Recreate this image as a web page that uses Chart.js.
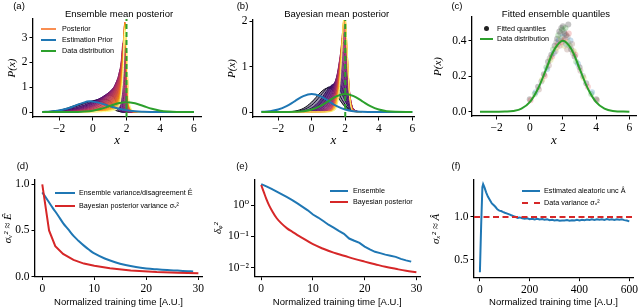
<!DOCTYPE html>
<html>
<head>
<meta charset="utf-8">
<script src="https://cdn.jsdelivr.net/npm/chart.js@4.4.0/dist/chart.umd.min.js"></script>
<style>
  body { margin: 0; background: #fff; }
  #fig { position: relative; width: 640px; height: 308px; overflow: hidden; font-family: 'Liberation Sans', sans-serif; }
  #fig canvas { position: absolute; }
  .lbl { position: absolute; white-space: nowrap; line-height: 1; color: #000; }
  .sw { position: absolute; height: 0; }
  .dot { position: absolute; border-radius: 50%; }
</style>
</head>
<body>
<div id="fig">
  <canvas id="pa"></canvas>
  <canvas id="pb"></canvas>
  <canvas id="pc"></canvas>
  <canvas id="pd"></canvas>
  <canvas id="pe"></canvas>
  <canvas id="pf"></canvas>
</div>
<script>
// Global font settings
const SERIF = "'Liberation Serif', 'DejaVu Serif', serif";
Chart.defaults.font.family = SERIF;
Chart.defaults.color = '#000';

// Colours
const BLUE = '#1f77b4';
const RED = '#d62728';
const GREEN = '#2ca02c';
const POST_ORANGE = '#f98e52';

// ---- Panels (a)-(c): densities on x ----
const DATA_MEAN = 2;
const xN = [-3, -2.5, -2, -1.5, -1, -0.5, 0, 0.5, 1, 1.5, 2, 2.5, 3, 3.5, 4, 4.5, 5, 6];
const dataDist = [0, 0, 0.0001, 0.0009, 0.0044, 0.0175, 0.054, 0.13, 0.242, 0.352, 0.399, 0.352, 0.242, 0.13, 0.054, 0.0175, 0.0044, 0.0001];
const priorB = [0.0044, 0.0175, 0.054, 0.13, 0.242, 0.352, 0.399, 0.352, 0.242, 0.13, 0.054, 0.0175, 0.0044, 0.0009, 0.0001, 0, 0, 0];
const xPriorA = [-3, -2.5, -2, -1.5, -1, -0.5, -0.2, 0, 0.5, 1, 1.5, 2, 2.5, 3, 3.5, 4, 5, 6];
const priorA = [0.005, 0.02, 0.06, 0.14, 0.27, 0.39, 0.43, 0.42, 0.35, 0.24, 0.14, 0.07, 0.03, 0.012, 0.004, 0.001, 0, 0];

// ensemble mean posterior curves, early (dark) to late (light)
const xA = [-3, -2, -1.5, -1, -0.5, 0, 0.5, 1, 1.25, 1.5, 1.65, 1.8, 1.9, 2.0, 2.15, 2.5, 3, 4, 6];
const postA = [
  [0.003, 0.07, 0.16, 0.28, 0.38, 0.44, 0.42, 0.22, 0.1, 0.03, 0.01, 0, 0, 0, 0, 0, 0, 0, 0],
  [0.002, 0.05, 0.12, 0.22, 0.34, 0.45, 0.52, 0.45, 0.25, 0.06, 0.01, 0, 0, 0, 0, 0, 0, 0, 0],
  [0.001, 0.035, 0.09, 0.17, 0.28, 0.42, 0.57, 0.68, 0.58, 0.18, 0.03, 0, 0, 0, 0, 0, 0, 0, 0],
  [0.001, 0.025, 0.065, 0.13, 0.23, 0.38, 0.58, 0.8, 0.92, 0.7, 0.15, 0.01, 0, 0, 0, 0, 0, 0, 0],
  [0, 0.018, 0.048, 0.1, 0.19, 0.33, 0.55, 0.82, 1.0, 1.3, 0.9, 0.1, 0, 0, 0, 0, 0, 0, 0],
  [0, 0.012, 0.035, 0.08, 0.15, 0.27, 0.5, 0.8, 1.0, 1.4, 1.75, 0.7, 0.05, 0, 0, 0, 0, 0, 0],
  [0, 0.008, 0.025, 0.06, 0.12, 0.23, 0.44, 0.76, 0.97, 1.4, 1.85, 2.4, 0.9, 0.05, 0, 0, 0, 0, 0],
  [0, 0.005, 0.016, 0.042, 0.09, 0.18, 0.37, 0.68, 0.9, 1.32, 1.8, 2.8, 2.6, 0.4, 0, 0, 0, 0, 0],
  [0, 0.003, 0.01, 0.028, 0.062, 0.13, 0.28, 0.56, 0.78, 1.18, 1.68, 2.8, 3.3, 0.9, 0.05, 0, 0, 0, 0],
  [0, 0.002, 0.006, 0.016, 0.04, 0.085, 0.19, 0.42, 0.62, 1.0, 1.5, 2.7, 3.55, 1.4, 0.1, 0, 0, 0, 0],
  [0, 0.001, 0.003, 0.009, 0.024, 0.052, 0.12, 0.3, 0.47, 0.8, 1.3, 2.55, 3.62, 1.8, 0.15, 0, 0, 0, 0],
  [0, 0, 0.002, 0.005, 0.014, 0.031, 0.075, 0.2, 0.34, 0.62, 1.1, 2.4, 3.62, 2.1, 0.2, 0, 0, 0, 0],
  [0, 0, 0.001, 0.003, 0.008, 0.018, 0.045, 0.13, 0.24, 0.47, 0.92, 2.2, 3.58, 2.3, 0.25, 0, 0, 0, 0],
  [0, 0, 0, 0.002, 0.005, 0.01, 0.026, 0.08, 0.16, 0.35, 0.76, 2.0, 3.5, 2.45, 0.3, 0.01, 0, 0, 0],
  [0, 0, 0, 0.001, 0.003, 0.006, 0.015, 0.05, 0.1, 0.25, 0.6, 1.8, 3.4, 2.55, 0.35, 0.02, 0, 0, 0],
  [0, 0, 0, 0, 0.002, 0.004, 0.009, 0.03, 0.06, 0.17, 0.46, 1.6, 3.3, 2.6, 0.4, 0.03, 0, 0, 0]
];
const postAColors = ['#000004', '#170c3a', '#320a5e', '#4a0c6b', '#5f136e', '#75196e', '#8a226a', '#a02a63',
                     '#b73557', '#cc4248', '#df5337', '#f06b24', '#f98c0a', '#fbb61a', '#f4dd4f', '#fcffa4'];

// Bayesian mean posterior curves
const xB = [-1.5, -1, -0.5, 0, 0.25, 0.5, 0.75, 1, 1.25, 1.5, 1.65, 1.8, 1.9, 2.0, 2.1, 2.25, 2.5, 3];
const postB = [
  [0, 0.02, 0.08, 0.22, 0.32, 0.42, 0.5, 0.53, 0.48, 0.36, 0.28, 0.2, 0.15, 0.11, 0.08, 0.04, 0.01, 0],
  [0, 0.01, 0.05, 0.15, 0.24, 0.35, 0.46, 0.55, 0.55, 0.46, 0.38, 0.28, 0.22, 0.16, 0.11, 0.06, 0.02, 0],
  [0, 0, 0.025, 0.09, 0.16, 0.26, 0.39, 0.52, 0.6, 0.56, 0.5, 0.4, 0.32, 0.24, 0.17, 0.08, 0.02, 0],
  [0, 0, 0.01, 0.05, 0.1, 0.18, 0.3, 0.46, 0.6, 0.66, 0.62, 0.54, 0.45, 0.35, 0.25, 0.12, 0.03, 0],
  [0, 0, 0.005, 0.025, 0.055, 0.11, 0.21, 0.37, 0.56, 0.73, 0.76, 0.72, 0.62, 0.5, 0.36, 0.17, 0.04, 0],
  [0, 0, 0, 0.012, 0.03, 0.065, 0.14, 0.28, 0.49, 0.78, 0.9, 0.92, 0.85, 0.7, 0.5, 0.25, 0.05, 0],
  [0, 0, 0, 0.005, 0.015, 0.035, 0.085, 0.2, 0.42, 0.8, 1.02, 1.1, 1.07, 0.92, 0.68, 0.33, 0.06, 0],
  [0, 0, 0, 0.002, 0.007, 0.018, 0.05, 0.13, 0.33, 0.78, 1.1, 1.3, 1.32, 1.18, 0.88, 0.4, 0.06, 0],
  [0, 0, 0, 0, 0.003, 0.008, 0.027, 0.08, 0.24, 0.7, 1.12, 1.45, 1.54, 1.44, 1.08, 0.45, 0.06, 0],
  [0, 0, 0, 0, 0.001, 0.004, 0.014, 0.047, 0.16, 0.6, 1.05, 1.55, 1.74, 1.68, 1.25, 0.48, 0.05, 0],
  [0, 0, 0, 0, 0, 0.002, 0.007, 0.026, 0.1, 0.46, 0.92, 1.6, 1.9, 1.88, 1.38, 0.48, 0.04, 0],
  [0, 0, 0, 0, 0, 0, 0.003, 0.014, 0.06, 0.33, 0.78, 1.56, 1.98, 2.0, 1.45, 0.45, 0.03, 0],
  [0, 0, 0, 0, 0, 0, 0.001, 0.007, 0.035, 0.22, 0.62, 1.46, 2.02, 2.05, 1.48, 0.42, 0.02, 0],
  [0, 0, 0, 0, 0, 0, 0, 0.003, 0.02, 0.14, 0.48, 1.32, 2.02, 2.08, 1.48, 0.38, 0.015, 0]
];
const postBColors = ['#000004', '#0d0829', '#1f0c48', '#330a5f', '#460b6a', '#5a116e', '#6d186e', '#811f6c',
                     '#952467', '#aa2e5f', '#cf4446', '#f1711f', '#fbb41a', '#f6f07a'];

// fitted ensemble quantiles
const qX = [0.0, 0.05, 0.3, 0.35, 0.5, 0.55, 0.7, 0.75, 0.85, 0.9, 1.0, 1.05, 1.1, 1.15, 1.2, 1.25, 1.3, 1.35,
            1.4, 1.45, 1.5, 1.55, 1.6, 1.62, 1.65, 1.7, 1.72, 1.75, 1.78, 1.8, 1.85, 1.88, 1.9, 1.92, 1.95, 1.97,
            2.0, 2.02, 2.05, 2.08, 2.1, 2.12, 2.15, 2.18, 2.2, 2.25, 2.28, 2.3, 2.32, 2.35, 2.4, 2.45, 2.5, 2.55,
            2.6, 2.65, 2.7, 2.75, 2.8, 2.9, 3.0, 3.05, 3.2, 3.25, 3.4, 3.5, 3.7, 3.75, 4.0, 4.05];
const qY = [0.07, 0.065, 0.1, 0.11, 0.14, 0.125, 0.17, 0.18, 0.21, 0.2, 0.25, 0.24, 0.28, 0.26, 0.3, 0.29, 0.32, 0.31,
            0.35, 0.33, 0.37, 0.34, 0.39, 0.36, 0.41, 0.38, 0.43, 0.4, 0.45, 0.37, 0.44, 0.41, 0.47, 0.39, 0.46, 0.42,
            0.48, 0.4, 0.45, 0.37, 0.44, 0.41, 0.47, 0.38, 0.43, 0.35, 0.42, 0.39, 0.49, 0.44, 0.37, 0.4, 0.35, 0.38,
            0.33, 0.34, 0.31, 0.32, 0.28, 0.27, 0.25, 0.23, 0.2, 0.19, 0.16, 0.14, 0.1, 0.11, 0.07, 0.065];
const qColors = ['rgba(90,90,90,0.35)', 'rgba(214,39,40,0.22)', 'rgba(44,160,44,0.25)', 'rgba(31,119,180,0.25)',
                 'rgba(90,90,90,0.35)', 'rgba(140,86,75,0.25)', 'rgba(120,120,120,0.3)', 'rgba(188,189,34,0.25)'];

// ---- Panels (d)-(f): training time ----
const tEnsD = [0, 1, 2, 3, 4, 5, 6, 7, 8, 9, 10, 12, 14, 16, 18, 20, 22, 24, 26, 28, 29];
const ensVarD = [0.913, 0.83, 0.745, 0.665, 0.58, 0.51, 0.44, 0.385, 0.335, 0.29, 0.25, 0.195, 0.155, 0.125, 0.103, 0.088, 0.078, 0.07, 0.064, 0.058, 0.055];
const tBayD = [0, 1.3, 2.5, 4, 6, 8, 10, 13, 17, 22, 26, 30];
const bayVarD = [1.0, 0.5, 0.33, 0.245, 0.18, 0.14, 0.116, 0.09, 0.066, 0.049, 0.041, 0.036];

const tEnsE = [0, 1, 2, 3, 4, 5, 6, 7, 8, 9, 10, 11, 12, 13, 14, 15, 16, 17, 18, 19, 20, 21, 22, 23, 24, 25, 26, 27, 28, 29];
const ensErrE = [4.7, 4.0, 3.3, 2.7, 2.2, 1.8, 1.45, 1.13, 0.88, 0.68, 0.5, 0.4, 0.31, 0.235, 0.19, 0.15, 0.12, 0.085, 0.072, 0.062,
                 0.047, 0.038, 0.032, 0.029, 0.026, 0.024, 0.022, 0.019, 0.017, 0.0155];
const tBayE = [0, 0.5, 1, 1.5, 2, 3, 4, 5, 6, 7, 8, 10, 12, 14, 16, 18, 20, 22, 24, 26, 28, 30];
const bayErrE = [4.4, 2.6, 1.55, 1.0, 0.7, 0.38, 0.25, 0.18, 0.14, 0.11, 0.088, 0.056, 0.04, 0.03, 0.024, 0.019, 0.0155, 0.0128, 0.0106, 0.0091, 0.0079, 0.0071];

const tF = [0, 5, 10, 13, 18, 25, 32, 40, 48, 55, 62, 70, 78, 85, 92, 100, 110, 118, 126, 135, 144, 152, 160, 170, 180, 190,
            200, 210, 220, 230, 240, 250, 260, 270, 280, 290, 300, 310, 320, 330, 340, 350, 360, 370, 380, 390, 400, 410,
            420, 430, 440, 450, 460, 470, 480, 490, 500, 510, 520, 530, 540, 550, 560, 570, 580, 590, 600];
const aleaF = [0.35, 0.9, 1.35, 1.385, 1.35, 1.29, 1.24, 1.2, 1.16, 1.14, 1.12, 1.09, 1.075, 1.07, 1.06, 1.05, 1.04, 1.03, 1.02,
               1.01, 1.0, 0.99, 0.995, 0.985, 0.98, 0.985, 0.975, 0.98, 0.972, 0.978, 0.97, 0.975, 0.968, 0.972, 0.962, 0.968,
               0.958, 0.965, 0.955, 0.96, 0.958, 0.963, 0.955, 0.962, 0.958, 0.966, 0.96, 0.968, 0.962, 0.97, 0.964, 0.972,
               0.966, 0.974, 0.968, 0.972, 0.965, 0.975, 0.968, 0.973, 0.966, 0.974, 0.967, 0.972, 0.963, 0.958, 0.948];
const DATA_VAR = 1.0;

// ---- helpers ----
const pts = (xs, ys) => xs.map((x, i) => ({ x: x, y: ys[i] }));
const minus = v => String(v).replace('-', '\u2212');
const oneDec = v => v.toFixed(1);
const logLbl = v => ({ '1': '10\u2070', '0.1': '10\u207B\u00B9', '0.01': '10\u207B\u00B2' })[String(v)];
function hexA(hex, a) {
  const n = parseInt(hex.slice(1), 16);
  return 'rgba(' + (n >> 16) + ',' + ((n >> 8) & 255) + ',' + (n & 255) + ',' + a + ')';
}

function axis(kind, a, size) {
  return {
    type: a.type || 'linear',
    position: kind === 'x' ? 'bottom' : 'left',
    min: a.min,
    max: a.max,
    afterBuildTicks: s => { s.ticks = a.ticks.map(v => ({ value: v })); },
    afterFit: s => { if (kind === 'x') s.height = size; else s.width = size; },
    grid: { drawOnChartArea: false, drawTicks: true, tickLength: 3.5, color: '#000', lineWidth: 1 },
    border: { display: true, color: '#000', width: 1.3 },
    ticks: { autoSkip: false, maxRotation: 0, padding: 2, font: { family: SERIF, size: 11.5 }, color: '#000', callback: a.fmt },
    title: { display: true, text: a.title, font: a.titleFont, padding: a.titlePad, color: '#000' }
  };
}

// reg: canvas [x, y, w, h]; box: axes [left, top, right, bottom] in page pixels
function makePanel(id, reg, box, datasets, xa, ya) {
  const cv = document.getElementById(id);
  Object.assign(cv.style, { left: reg[0] + 'px', top: reg[1] + 'px', width: reg[2] + 'px', height: reg[3] + 'px' });
  cv.width = reg[2];
  cv.height = reg[3];
  return new Chart(cv, {
    type: 'line',
    data: { datasets: datasets },
    options: {
      responsive: false,
      animation: false,
      events: [],
      layout: { padding: { left: 0, top: box[1] - reg[1], right: reg[0] + reg[2] - box[2], bottom: 0 } },
      plugins: { legend: { display: false }, tooltip: { enabled: false }, filler: { propagate: false } },
      elements: { point: { radius: 0 }, line: { borderWidth: 1, tension: 0 } },
      scales: {
        x: axis('x', xa, reg[1] + reg[3] - box[3]),
        y: axis('y', ya, box[0] - reg[0])
      }
    }
  });
}

const line = (data, color, width, extra) => Object.assign({ data: data, borderColor: color, borderWidth: width, fill: false }, extra || {});
const SMOOTH = { tension: 0.4 };

// posterior family: each curve is filled down to the curve before it
function family(xs, curves, colors) {
  const out = [];
  for (let k = curves.length - 1; k >= 0; k--) {
    out.push(line(pts(xs, curves[k]), colors[k], 1, {
      cubicInterpolationMode: 'monotone',
      fill: k > 0 ? '+1' : false,
      backgroundColor: hexA(colors[k], k < 3 ? 0.45 : 0.8)
    }));
  }
  return out;
}

const SANS_TITLE = { family: "'Liberation Sans', sans-serif", size: 9.5 };
const PX_FONT = { family: SERIF, style: 'italic', size: 11 };

function xTop() {
  return { min: -3.5, max: 6.45, ticks: [-2, 0, 2, 4, 6], fmt: minus, title: 'x',
           titleFont: { family: SERIF, style: 'italic', size: 13 }, titlePad: { top: 0, bottom: 1.2 } };
}
function xTime(min, max, ticks) {
  return { min: min, max: max, ticks: ticks, fmt: minus, title: 'Normalized training time [A.U.]', titleFont: SANS_TITLE, titlePad: { top: 0, bottom: 0.3 } };
}

// (a) ensemble mean posterior
const dsA = [
  line([{ x: DATA_MEAN, y: -0.2 }, { x: DATA_MEAN, y: 3.75 }], GREEN, 2, { borderDash: [5, 3] }),
  line(pts(xN, dataDist), GREEN, 2, SMOOTH),
  line(pts(xPriorA, priorA), BLUE, 2, SMOOTH)
].concat(family(xA, postA, postAColors));
makePanel('pa', [0, 0, 210, 150], [33, 19, 201.5, 117], dsA,
  Object.assign(xTop(), { min: -3.55 }),
  { min: -0.2, max: 3.75, ticks: [0, 1, 2, 3], fmt: minus, title: 'P(x)', titleFont: PX_FONT, titlePad: { top: 5.9, bottom: 0 } });

// (b) Bayesian mean posterior
const dsB = [
  line([{ x: DATA_MEAN, y: -0.11 }, { x: DATA_MEAN, y: 2.03 }], GREEN, 2, { borderDash: [5, 3] }),
  line(pts(xN, dataDist), GREEN, 2, SMOOTH),
  line(pts(xN, priorB), BLUE, 2, SMOOTH)
].concat(family(xB, postB, postBColors));
makePanel('pb', [210, 0, 215, 150], [253, 20, 414, 117], dsB,
  Object.assign(xTop(), { max: 6.1 }),
  { min: -0.11, max: 2.03, ticks: [0, 1, 2], fmt: minus, title: 'P(x)', titleFont: PX_FONT, titlePad: { top: 15.9, bottom: 0 } });

// (c) fitted ensemble quantiles
const dsC = [
  line(pts(xN, dataDist), GREEN, 2, SMOOTH),
  { data: pts(qX, qY), showLine: false, pointRadius: 3, pointBorderWidth: 0,
    pointBackgroundColor: qX.map((_, i) => qColors[i % qColors.length]) }
];
makePanel('pc', [425, 0, 215, 150], [472, 17, 638, 116], dsC,
  Object.assign(xTop(), { min: -3.48, max: 6.4 }),
  { min: -0.024, max: 0.532, ticks: [0, 0.2, 0.4], fmt: oneDec, title: 'P(x)', titleFont: PX_FONT, titlePad: { top: 6.4, bottom: 0 } });

// (d) variances
makePanel('pd', [0, 150, 210, 158], [35, 180, 202, 276.5], [
  line(pts(tBayD, bayVarD), RED, 2),
  line(pts(tEnsD, ensVarD), BLUE, 2, SMOOTH)
], xTime(-1.4, 30.7, [0, 10, 20, 30]),
  { min: 0, max: 1.047, ticks: [0, 0.5, 1], fmt: oneDec, title: '\u03C3\u1D65\u00B2 \u2248 \u00CA', titleFont: PX_FONT, titlePad: { top: 1.4, bottom: 0 } });

// (e) errors, log scale
makePanel('pe', [210, 150, 215, 158], [254.5, 179.5, 420, 276.7], [
  line(pts(tBayE, bayErrE), RED, 2, SMOOTH),
  line(pts(tEnsE, ensErrE), BLUE, 2)
], xTime(-1.3, 30.7, [0, 10, 20, 30]),
  { type: 'logarithmic', min: 0.0051, max: 6.6, ticks: [0.01, 0.1, 1], fmt: logLbl, title: '\u03B4\u1D69\u00B2', titleFont: PX_FONT, titlePad: { top: 1.4, bottom: 0 } });

// (f) aleatoric uncertainty
makePanel('pf', [425, 150, 215, 158], [474, 180, 636, 277.7], [
  line([{ x: -23.7, y: DATA_VAR }, { x: 615, y: DATA_VAR }], RED, 2, { borderDash: [6, 3.5] }),
  line(pts(tF, aleaF), BLUE, 2)
], xTime(-23.7, 615, [0, 200, 400, 600]),
  { min: 0.286, max: 1.435, ticks: [0.5, 1], fmt: oneDec, title: '\u03C3\u2093\u00B2 \u2248 \u00C2', titleFont: PX_FONT, titlePad: { top: 4.4, bottom: 0 } });

// ---- text overlays: titles, panel letters, legends ----
const fig = document.getElementById('fig');
function text(str, x, y, size, centered) {
  const d = document.createElement('div');
  d.className = 'lbl';
  d.textContent = str;
  d.style.left = x + 'px';
  d.style.top = y + 'px';
  d.style.fontSize = size + 'px';
  d.style.transform = centered ? 'translate(-50%,-50%)' : 'translate(0,-50%)';
  fig.appendChild(d);
}
function swatch(x1, x2, y, color, dashed) {
  const d = document.createElement('div');
  d.className = 'sw';
  Object.assign(d.style, { left: x1 + 'px', top: (y - 1) + 'px', width: (x2 - x1) + 'px',
    borderTop: '2px ' + (dashed ? 'dashed ' : 'solid ') + color });
  fig.appendChild(d);
}
function dot(x, y, r, color) {
  const d = document.createElement('div');
  d.className = 'dot';
  Object.assign(d.style, { left: (x - r) + 'px', top: (y - r) + 'px', width: 2 * r + 'px', height: 2 * r + 'px', background: color });
  fig.appendChild(d);
}

text('Ensemble mean posterior', 119, 13.5, 9.5, true);
text('Bayesian mean posterior', 336.7, 13.5, 9.5, true);
text('Fitted ensemble quantiles', 556, 13.5, 9.5, true);
text('(a)', 19, 6, 9.5, true);
text('(b)', 242.5, 6, 9.5, true);
text('(c)', 457, 6, 9.5, true);
text('(d)', 22.5, 165.5, 9.5, true);
text('(e)', 242, 165.5, 9.5, true);
text('(f)', 456, 165.5, 9.5, true);

const LEG = 7.2;
swatch(41, 56, 29, POST_ORANGE); text('Posterior', 62, 29, LEG);
swatch(41, 56, 39.5, BLUE); text('Estimation Prior', 62, 39.5, LEG);
swatch(41, 56, 50.5, GREEN); text('Data distribution', 62, 50.5, LEG);

dot(486.5, 28.7, 2.5, '#222'); text('Fitted quantiles', 497, 28.7, LEG);
swatch(480, 493, 38.7, GREEN); text('Data distribution', 497, 38.7, LEG);

swatch(55, 75, 192.7, BLUE); text('Ensemble variance/disagreement \u00CA', 79, 192.7, LEG);
swatch(55, 75, 206, RED); text('Bayesian posterior variance \u03C3\u1D65\u00B2', 79, 206, LEG);

swatch(330, 348, 190.7, BLUE); text('Ensemble', 353, 190.7, LEG);
swatch(330, 348, 202.3, RED); text('Bayesian posterior', 353, 202.3, LEG);

swatch(521.7, 540, 190.7, BLUE); text('Estimated aleatoric unc \u00C2', 544, 190.7, LEG);
swatch(521.7, 540, 202.7, RED, true); text('Data variance \u03C3\u2093\u00B2', 544, 202.7, LEG);
</script>
</body>
</html>
